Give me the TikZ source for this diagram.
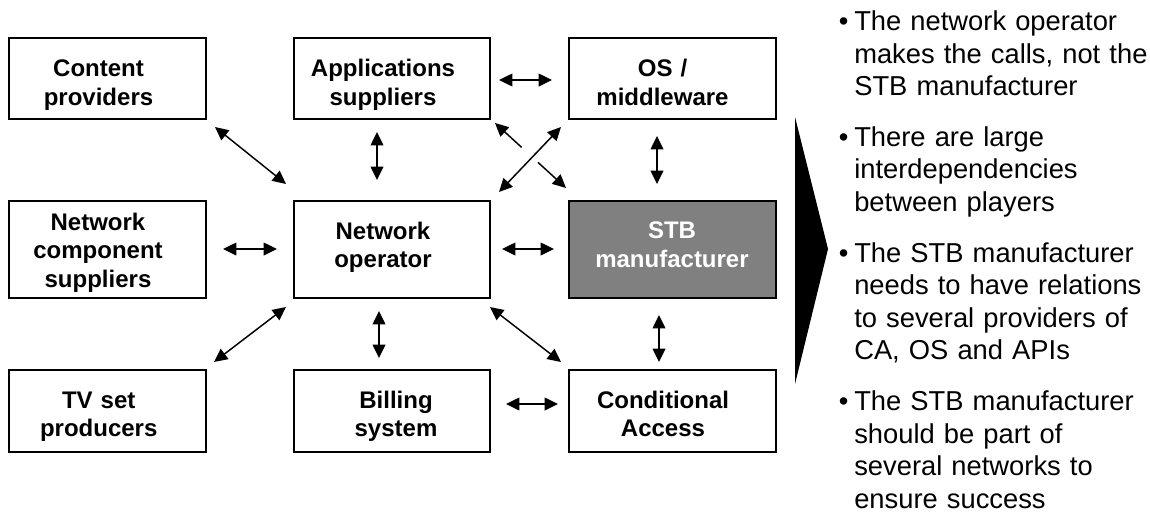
\documentclass[tikz,border=0pt]{standalone}
\usepackage{fontspec}
\setmainfont{Liberation Sans}
\usetikzlibrary{arrows.meta,calc}
\definecolor{stbgray}{RGB}{128,128,128}
\begin{document}
\begin{tikzpicture}[x=0.75pt,y=-0.75pt,
  box/.style={rectangle, draw=black, line width=1.2pt, fill=white, inner sep=0pt},
  c1/.style={minimum width=147.75pt},
  c2/.style={minimum width=147pt},
  c3/.style={minimum width=155.25pt},
  r1/.style={minimum height=60.75pt},
  r2/.style={minimum height=72.75pt},
  r3/.style={minimum height=61.5pt},
  lbl/.style={font=\fontsize{18}{21.4}\selectfont\bfseries, text width=180pt, align=center, inner sep=0pt, anchor=base},
  bul/.style={font=\fontsize{20.5}{24.4}\selectfont, text width=260pt, align=left, inner sep=0pt, anchor=base west},
  bdot/.style={font=\fontsize{20.5}{24.4}\selectfont, inner sep=0pt, anchor=base west},
  arr/.style={line width=1.1pt, {Triangle[length=10pt,width=9.5pt]}-{Triangle[length=10pt,width=9.5pt]}},
  arrs/.style={line width=1.1pt, {Triangle[length=10pt,width=9.5pt]}-},
  arre/.style={line width=1.1pt, -{Triangle[length=10pt,width=9.5pt]}}
]
\useasboundingbox (0,0) rectangle (1150,515);

% boxes
\node[box,c1,r1] (cp)  at (107.5,78.5) {};
\node[box,c2,r1] (app) at (392,78.5) {};
\node[box,c3,r1] (os)  at (672.5,78.5) {};
\node[box,c1,r2] (ncs) at (107.5,249.5) {};
\node[box,c2,r2] (no)  at (392,249.5) {};
\node[box,c3,r2,fill=stbgray] (stb) at (672.5,249.5) {};
\node[box,c1,r3] (tv)  at (107.5,411) {};
\node[box,c2,r3] (bill) at (392,411) {};
\node[box,c3,r3] (ca)  at (672.5,411) {};

% labels
\node[lbl] (cpT)  at (98.5,76.7) {Content\\providers};
\node[lbl] (appT) at (383,76.5) {Applications\\suppliers};
\node[lbl] (osT)  at (662.5,76.7) {OS /\\middleware};
\node[lbl] (ncsT) at (98,230) {Network\\component\\suppliers};
\node[lbl] (noT)  at (383,239) {Network\\operator};
\node[lbl,text=white] (stbT) at (672,238.5) {STB\\manufacturer};
\node[lbl] (tvT)  at (98.7,408.3) {TV set\\producers};
\node[lbl] (billT) at (396,408.3) {Billing\\system};
\node[lbl] (caT)  at (663,408.3) {Conditional\\Access};

% connector end points
\coordinate (e1a) at (215,127);   \coordinate (e1b) at (286,184);
\coordinate (e2a) at (377,132);   \coordinate (e2b) at (377,180);
\coordinate (e3a) at (223,249);   \coordinate (e3b) at (277,249);
\coordinate (e4a) at (214,362);   \coordinate (e4b) at (286,307);
\coordinate (e5a) at (379,311);   \coordinate (e5b) at (379,358);
\coordinate (e6a) at (499,80);    \coordinate (e6b) at (552,80);
\coordinate (e7a) at (495,123);   \coordinate (e7b) at (566,188);
\coordinate (e8a) at (499,192);   \coordinate (e8b) at (561,127);
\coordinate (e9a) at (657,136);   \coordinate (e9b) at (657,184);
\coordinate (e10a) at (502,249);  \coordinate (e10b) at (554,249);
\coordinate (e11a) at (490,307);  \coordinate (e11b) at (561,362);
\coordinate (e12a) at (659,315);  \coordinate (e12b) at (659,362);
\coordinate (e13a) at (506,404);  \coordinate (e13b) at (558,404);

% connectors
\draw[arr] (e1a) -- (e1b);
\draw[arr] (e2a) -- (e2b);
\draw[arr] (e3a) -- (e3b);
\draw[arr] (e4a) -- (e4b);
\draw[arr] (e5a) -- (e5b);
\draw[arr] (e6a) -- (e6b);
\draw[arrs] (e7a) -- ($(e7a)!0.375!(e7b)$);
\draw[arre] ($(e7a)!0.605!(e7b)$) -- (e7b);
\draw[arr] (e8a) -- (e8b);
\draw[arr] (e9a) -- (e9b);
\draw[arr] (e10a) -- (e10b);
\draw[arr] (e11a) -- (e11b);
\draw[arr] (e12a) -- (e12b);
\draw[arr] (e13a) -- (e13b);

% big arrow
\fill[black] (795,117) -- (828,249) -- (795,384) -- cycle;

% bullets
\node[bdot] (d1) at (838.5,30.5) {•};
\node[bul] (p1) at (854,30.5) {The network operator\\makes the calls, not the\\STB manufacturer};
\node[bdot] (d2) at (838.5,146.3) {•};
\node[bul] (p2) at (854,146.3) {There are large\\interdependencies\\between players};
\node[bdot] (d3) at (838.5,262.2) {•};
\node[bul] (p3) at (854,262.2) {The STB manufacturer\\needs to have relations\\to several providers of\\CA, OS and APIs};
\node[bdot] (d4) at (838.5,410.5) {•};
\node[bul] (p4) at (854,410.5) {The STB manufacturer\\should be part of\\several networks to\\ensure success};
\end{tikzpicture}
\end{document}
